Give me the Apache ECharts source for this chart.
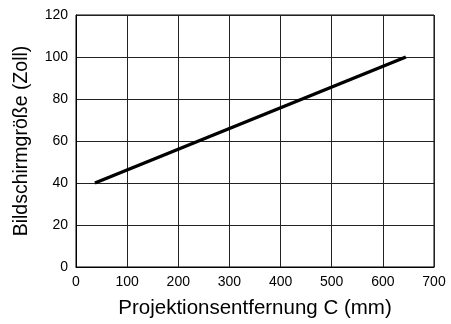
<!DOCTYPE html>
<html><head><meta charset="utf-8">
<script src="https://cdn.jsdelivr.net/npm/echarts@6/dist/echarts.min.js"></script>
<style>html,body{margin:0;padding:0;background:#fff}#c{width:451px;height:324px}</style>
</head><body><div id="c"></div>
<script>
const xValues = [37, 645];
const yValues = [40, 100];
const xAxisName = 'Projektionsentfernung C (mm)';
const yAxisName = 'Bildschirmgröße (Zoll)';
const font = '"Liberation Sans", Arial, sans-serif';
const chart = echarts.init(document.getElementById('c'), null, {renderer: 'canvas'});
chart.setOption({
  animation: false,
  grid: {left: 76, right: 17, top: 15, bottom: 56, show: true, borderColor: '#000', borderWidth: 1},
  xAxis: {
    type: 'value', min: 0, max: 700, interval: 100,
    name: xAxisName, nameLocation: 'middle', nameGap: 31,
    nameTextStyle: {fontFamily: font, fontSize: 20.5, color: '#000'},
    axisLine: {show: true, lineStyle: {color: '#000', width: 1}},
    axisTick: {show: false},
    axisLabel: {fontFamily: font, fontSize: 14, color: '#000', margin: 8},
    splitLine: {show: true, lineStyle: {color: '#222', width: 1}}
  },
  yAxis: {
    type: 'value', min: 0, max: 120, interval: 20,
    name: yAxisName, nameLocation: 'middle', nameGap: 44,
    nameTextStyle: {fontFamily: font, fontSize: 19.5, color: '#000'},
    axisLine: {show: true, lineStyle: {color: '#000', width: 1}},
    axisTick: {show: false},
    axisLabel: {fontFamily: font, fontSize: 14, color: '#000', margin: 8},
    splitLine: {show: true, lineStyle: {color: '#222', width: 1}}
  },
  series: [{
    type: 'line',
    data: xValues.map((x, i) => [x, yValues[i]]),
    symbol: 'none',
    lineStyle: {color: '#000', width: 3.5}
  }]
});
</script></body></html>
